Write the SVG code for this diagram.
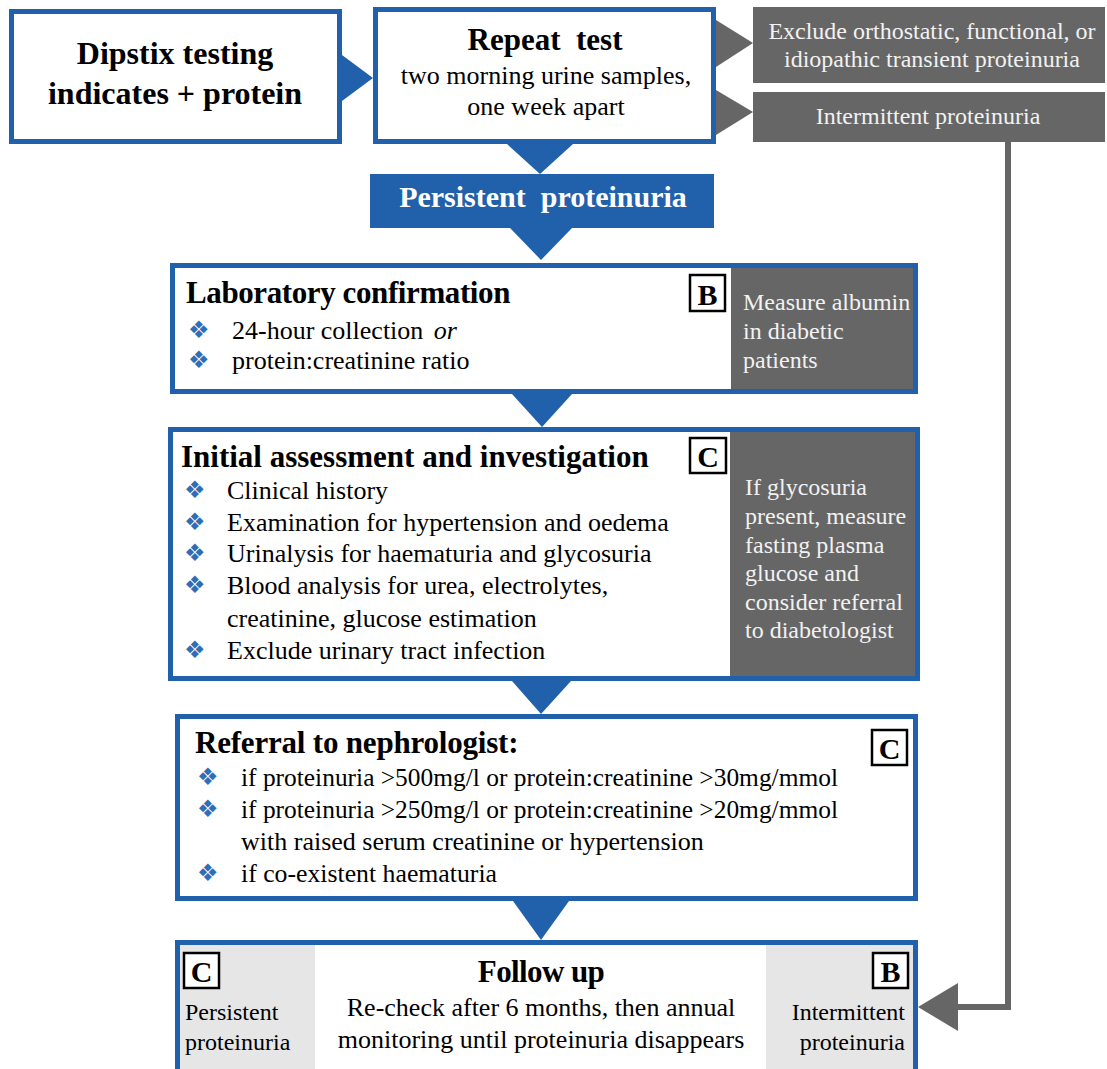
<svg xmlns="http://www.w3.org/2000/svg" width="1107" height="1069" viewBox="0 0 1107 1069">
<style>
.bx{fill:#fff;stroke:#2161AB;stroke-width:5}
.blue{fill:#2161AB}
.grey{fill:#666666}
.lgrey{fill:#E6E6E6}
.t{font-family:"Liberation Serif","Times New Roman",serif;fill:#000}
.b{font-weight:bold}
.w{fill:#F2F2F2}
.c{text-anchor:middle}
.bul{font-family:"DejaVu Sans",sans-serif;fill:#2E6DB8;font-size:24px}
.badge{fill:#fff;stroke:#000;stroke-width:2.5}
.it{font-size:26px}
.side{font-size:24px}
</style>
<g id="connectors">
<polygon class="blue" points="342,55 373,78 342,101"/>
<polygon class="blue" points="507,144 573,144 540,174"/>
<polygon class="blue" points="510,228 572,228 541,260"/>
<polygon class="blue" points="512,394 572,394 542,427"/>
<polygon class="blue" points="512,681 571,681 541,714"/>
<polygon class="blue" points="513,901 569,901 541,940"/>
<polygon class="grey" points="716,20 753,43 716,67"/>
<polygon class="grey" points="716,90 753,112 716,135"/>
<path d="M1008,142 V1007 H955" fill="none" stroke="#666666" stroke-width="6"/>
<polygon class="grey" points="958,983 958,1031 918,1007"/>
</g>
<g id="dipstix">
<rect class="bx" x="11.5" y="11.5" width="328" height="130"/>
<text class="t b c" x="175" y="64" font-size="32">Dipstix testing</text>
<text class="t b c" x="175" y="104" font-size="32">indicates + protein</text>
</g>
<g id="repeat">
<rect class="bx" x="375.5" y="9.5" width="338" height="132"/>
<text class="t b c" x="545" y="50" font-size="31" xml:space="preserve">Repeat  test</text>
<text class="t c" x="546" y="84" font-size="26">two morning urine samples,</text>
<text class="t c" x="546" y="115" font-size="26">one week apart</text>
</g>
<g id="exclude">
<rect class="grey" x="753" y="7" width="352" height="76"/>
<text class="t w c" x="932" y="39" font-size="24">Exclude orthostatic, functional, or</text>
<text class="t w c" x="932" y="67" font-size="24">idiopathic transient proteinuria</text>
</g>
<g id="intermittent">
<rect class="grey" x="753" y="92" width="352" height="50"/>
<text class="t w c" x="928" y="124" font-size="24">Intermittent proteinuria</text>
</g>
<g id="persistent">
<rect class="blue" x="370" y="174" width="344" height="54"/>
<text class="t b c" x="543" y="207" font-size="30" style="fill:#fff" xml:space="preserve">Persistent  proteinuria</text>
</g>
<g id="lab">
<rect class="bx" x="172.5" y="265.5" width="743" height="126"/>
<rect class="grey" x="731" y="268" width="182" height="121"/>
<text class="t b" x="186" y="303" font-size="31" letter-spacing="-0.4">Laboratory confirmation</text>
<text class="bul" x="188" y="338">❖</text>
<text class="t it" x="232" y="339">24-hour collection <tspan font-style="italic" dx="4">or</tspan></text>
<text class="bul" x="188" y="368">❖</text>
<text class="t it" x="232" y="369">protein:creatinine ratio</text>
<rect class="badge" x="690" y="275" width="35" height="36"/>
<text class="t b c" x="707.5" y="305" font-size="30">B</text>
<text class="t w side" x="743" y="310">Measure albumin</text>
<text class="t w side" x="743" y="339">in diabetic</text>
<text class="t w side" x="743" y="368">patients</text>
</g>
<g id="initial">
<rect class="bx" x="170.5" y="429.5" width="747" height="249"/>
<rect class="grey" x="730" y="432" width="185" height="244"/>
<text class="t b" x="181" y="467" font-size="31">Initial assessment and investigation</text>
<rect class="badge" x="690" y="438" width="36" height="35"/>
<text class="t b c" x="708" y="467" font-size="30">C</text>
<text class="bul" x="184" y="498">❖</text>
<text class="t it" x="227" y="499">Clinical history</text>
<text class="bul" x="184" y="530">❖</text>
<text class="t it" x="227" y="531">Examination for hypertension and oedema</text>
<text class="bul" x="184" y="561">❖</text>
<text class="t it" x="227" y="562">Urinalysis for haematuria and glycosuria</text>
<text class="bul" x="184" y="593">❖</text>
<text class="t it" x="227" y="594">Blood analysis for urea, electrolytes,</text>
<text class="t it" x="227" y="627">creatinine, glucose estimation</text>
<text class="bul" x="184" y="658">❖</text>
<text class="t it" x="227" y="659">Exclude urinary tract infection</text>
<text class="t w side" x="745" y="495">If glycosuria</text>
<text class="t w side" x="745" y="524">present, measure</text>
<text class="t w side" x="745" y="553">fasting plasma</text>
<text class="t w side" x="745" y="581">glucose and</text>
<text class="t w side" x="745" y="610">consider referral</text>
<text class="t w side" x="745" y="638">to diabetologist</text>
</g>
<g id="referral">
<rect class="bx" x="177.5" y="716.5" width="738" height="182"/>
<text class="t b" x="195" y="753" font-size="31" letter-spacing="-0.2">Referral to nephrologist:</text>
<rect class="badge" x="872" y="730" width="35" height="35"/>
<text class="t b c" x="889.5" y="759" font-size="30">C</text>
<text class="bul" x="197" y="785">❖</text>
<text class="t it" x="241" y="786" textLength="597" lengthAdjust="spacingAndGlyphs">if proteinuria &gt;500mg/l or protein:creatinine &gt;30mg/mmol</text>
<text class="bul" x="197" y="817">❖</text>
<text class="t it" x="241" y="818" textLength="597" lengthAdjust="spacingAndGlyphs">if proteinuria &gt;250mg/l or protein:creatinine &gt;20mg/mmol</text>
<text class="t it" x="241" y="850">with raised serum creatinine or hypertension</text>
<text class="bul" x="197" y="881">❖</text>
<text class="t it" x="241" y="882" textLength="256" lengthAdjust="spacingAndGlyphs">if co-existent haematuria</text>
</g>
<g id="followup">
<rect class="bx" x="177.5" y="942.5" width="738" height="135"/>
<rect class="lgrey" x="180" y="945" width="135" height="124"/>
<rect class="lgrey" x="766" y="945" width="147" height="124"/>
<rect class="badge" x="184" y="953" width="35" height="35"/>
<text class="t b c" x="201.5" y="982" font-size="30">C</text>
<rect class="badge" x="873" y="953" width="35" height="35"/>
<text class="t b c" x="890.5" y="982" font-size="30">B</text>
<text class="t side" x="185" y="1020">Persistent</text>
<text class="t side" x="185" y="1050">proteinuria</text>
<text class="t side" x="905" y="1020" text-anchor="end">Intermittent</text>
<text class="t side" x="905" y="1050" text-anchor="end">proteinuria</text>
<text class="t b c" x="541" y="982" font-size="31" letter-spacing="-0.6">Follow up</text>
<text class="t c it" x="541" y="1016">Re-check after 6 months, then annual</text>
<text class="t c it" x="541" y="1048">monitoring until proteinuria disappears</text>
</g>
</svg>
